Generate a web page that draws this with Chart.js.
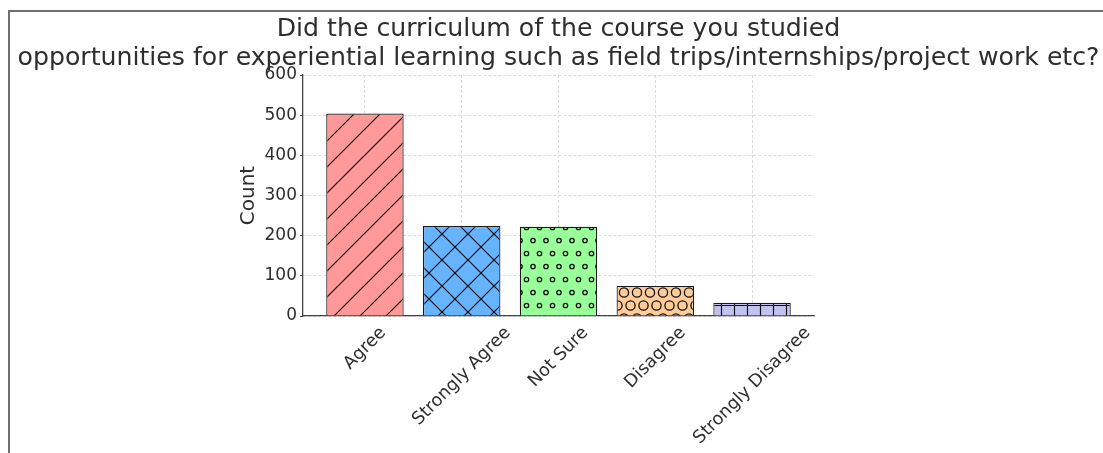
<!DOCTYPE html>
<html>
<head>
<meta charset="utf-8">
<title>Experiential learning survey</title>
<script src="https://cdn.jsdelivr.net/npm/chart.js@4/dist/chart.umd.min.js"></script>
<style>
  body { margin: 0; background: #ffffff; }
  canvas { display: block; }
</style>
</head>
<body>
<canvas id="my-chart" width="1103" height="453"></canvas>
<script>
'use strict';

// **** Data ****

let categories = ['Agree', 'Strongly Agree', 'Not Sure', 'Disagree', 'Strongly Disagree'];
let counts = [504, 224, 222, 75, 33];
let yTicks = [0, 100, 200, 300, 400, 500, 600];
let barColors = ['#ff9999', '#66b3ff', '#99ff99', '#ffcc99', '#c2c2f0'];
let hatches = ['/', 'x', 'o', 'O', '+'];

let titleLines = [
  'Did the curriculum of the course you studied',
  'opportunities for experiential learning such as field trips/internships/project work etc?'
];

let textColor = '#2e2e2e';
let fontFamily = '"DejaVu Sans", Verdana, sans-serif';

// **** Canvas Reference ****

let ctx = document.getElementById('my-chart').getContext('2d');

// **** Helper function/Code ****

function makeHatch(kind, color) {
  let big = (kind === '/' || kind === 'x');
  let size = (kind === '+') ? 13 : 26;
  let tile = document.createElement('canvas');
  tile.width = size;
  tile.height = size;
  let t = tile.getContext('2d');
  t.fillStyle = color;
  t.fillRect(0, 0, size, size);
  t.strokeStyle = '#111111';
  t.lineWidth = 1.2;

  if (big) {
    for (let k = -1; k <= 1; k++) {
      t.beginPath();
      t.moveTo(k * size, size);
      t.lineTo(k * size + size, 0);
      t.stroke();
      if (kind === 'x') {
        t.beginPath();
        t.moveTo(k * size, 0);
        t.lineTo(k * size + size, size);
        t.stroke();
      }
    }
  } else if (kind === '+') {
    t.beginPath();
    t.moveTo(size / 2, 0);
    t.lineTo(size / 2, size);
    t.moveTo(0, size / 2);
    t.lineTo(size, size / 2);
    t.stroke();
  } else {
    // small or large circles, every other row shifted half a step
    let step = size / 2;
    let radius = (kind === 'o') ? 2.2 : 4.6;
    t.lineWidth = 1.3;
    for (let row = -1; row <= 2; row++) {
      let shift = (Math.abs(row) % 2 === 1) ? step / 2 : 0;
      for (let col = -1; col <= 3; col++) {
        t.beginPath();
        t.arc(col * step + shift, row * step + step / 2, radius, 0, Math.PI * 2);
        t.stroke();
      }
    }
  }
  return ctx.createPattern(tile, 'repeat');
}

let barFills = [];
for (let i = 0; i < categories.length; i++) {
  barFills.push(makeHatch(hatches[i], barColors[i]));
}

let barData = [];
for (let i = 0; i < categories.length; i++) {
  barData.push({ x: i, y: counts[i] });
}

// **** Plugins ****

let framePlugin = {
  id: 'frame',
  beforeDraw(chart) {
    let c = chart.ctx;
    c.save();
    c.fillStyle = '#ffffff';
    c.fillRect(0, 0, chart.width, chart.height);
    c.strokeStyle = '#707070';
    c.lineWidth = 2;
    c.beginPath();
    c.moveTo(9, chart.height);
    c.lineTo(9, 11);
    c.lineTo(chart.width, 11);
    c.stroke();
    c.restore();
  }
};

let textPlugin = {
  id: 'texts',
  afterDraw(chart) {
    let c = chart.ctx;
    let area = chart.chartArea;
    let xScale = chart.scales.x;

    c.save();
    c.fillStyle = textColor;

    // title, centred over the axes
    c.font = '25.2px ' + fontFamily;
    c.textAlign = 'center';
    c.textBaseline = 'alphabetic';
    let mid = (area.left + area.right) / 2;
    c.fillText(titleLines[0], mid, 36);
    c.fillText(titleLines[1], mid, 65);

    // category labels, rotated 45 degrees with the box centred on the tick
    let fontSize = 17.6;
    c.font = fontSize + 'px ' + fontFamily;
    c.textBaseline = 'middle';
    let top = area.bottom + 7;
    for (let i = 0; i < categories.length; i++) {
      let w = c.measureText(categories[i]).width;
      let h = fontSize * 1.16;
      let half = (w + h) * Math.SQRT1_2 / 2;
      let px = xScale.getPixelForValue(i);
      c.save();
      c.translate(px, top + half);
      c.rotate(-Math.PI / 4);
      c.fillText(categories[i], 0, 0);
      c.restore();
    }
    c.restore();
  }
};

// **** Chart ****

let myChartObj = {
  type: 'bar',
  data: {
    datasets: [{
      label: 'Count',
      data: barData,
      backgroundColor: barFills,
      borderColor: '#1a1a1a',
      borderWidth: 1.2,
      barPercentage: 0.8,
      categoryPercentage: 1.0
    }]
  },
  options: {
    responsive: false,
    animation: false,
    layout: {
      padding: { left: 233, right: 289, top: 75, bottom: 137 }
    },
    plugins: {
      legend: { display: false },
      tooltip: { enabled: false },
      title: { display: false }
    },
    scales: {
      x: {
        type: 'linear',
        min: -0.64,
        max: 4.64,
        offset: false,
        afterBuildTicks(axis) {
          axis.ticks = categories.map((c, i) => ({ value: i }));
        },
        afterFit(axis) {
          axis.height = 0;
        },
        ticks: { display: false },
        grid: {
          offset: false,
          color: '#d0d0d0',
          lineWidth: 0.8,
          drawTicks: false
        },
        border: {
          display: true,
          color: '#444444',
          width: 1.3,
          dash: [3, 2]
        }
      },
      y: {
        min: yTicks[0],
        max: yTicks[yTicks.length - 1],
        afterBuildTicks(axis) {
          axis.ticks = yTicks.map((v) => ({ value: v }));
        },
        afterFit(axis) {
          axis.width = 70;
        },
        ticks: {
          color: textColor,
          padding: 3,
          font: { family: fontFamily, size: 17 }
        },
        grid: {
          color: '#d0d0d0',
          lineWidth: 0.8,
          drawTicks: true,
          tickLength: 3,
          tickColor: '#444444',
          tickWidth: 1
        },
        border: {
          display: true,
          color: '#444444',
          width: 1.3,
          dash: [3, 2]
        },
        title: {
          display: true,
          text: 'Count',
          color: textColor,
          font: { family: fontFamily, size: 20 },
          padding: { top: 4, bottom: 4 }
        }
      }
    }
  },
  plugins: [framePlugin, textPlugin]
};

new Chart(ctx, myChartObj);
</script>
</body>
</html>
